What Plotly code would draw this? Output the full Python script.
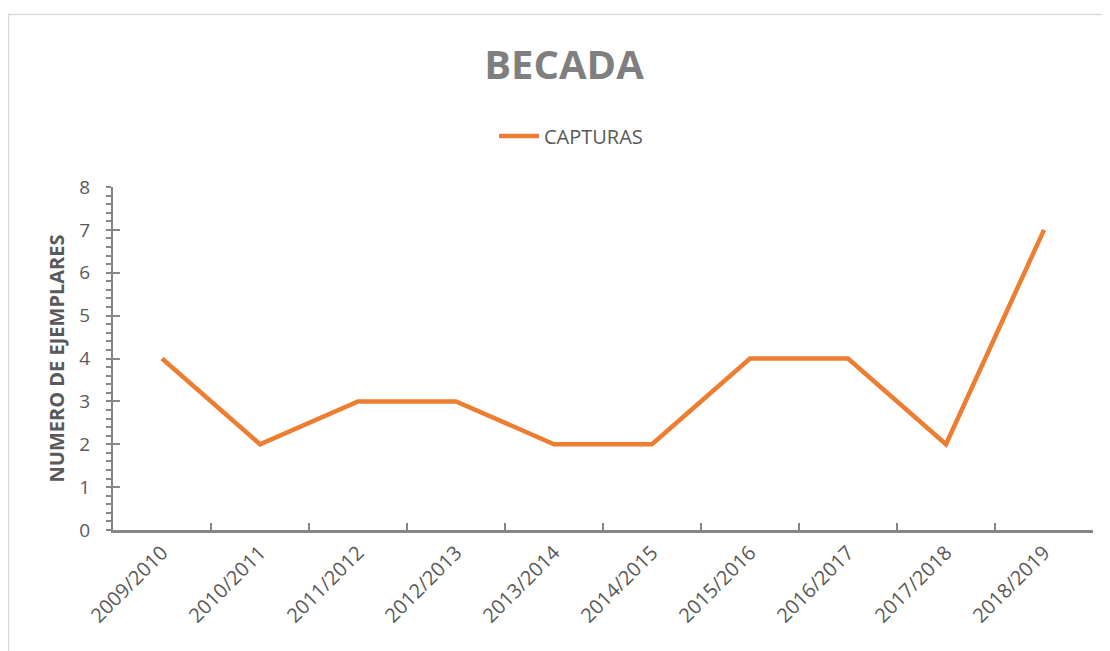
import plotly.graph_objects as go

categories = ["2009/2010", "2010/2011", "2011/2012", "2012/2013", "2013/2014",
              "2014/2015", "2015/2016", "2016/2017", "2017/2018", "2018/2019"]
capturas = [4, 2, 3, 3, 2, 2, 4, 4, 2, 7]

# page body has an 8px margin, so the figure is sized/placed to compensate
OFF = 8
W, H = 1110 - OFF, 651 - OFF
L, R, T, B = 113 - OFF, 17, 187 - OFF, 121
PW, PH = W - L - R, H - T - B
AX = "#868686"
TXT = "#595959"
FONT = "Open Sans"


def px(x):  # screen x -> paper
    return (x - OFF - L) / PW


def py(y):  # screen y -> paper
    return 1 - (y - OFF - T) / PH


fig = go.Figure()
fig.add_trace(go.Scatter(
    x=categories, y=capturas, mode="lines", name="CAPTURAS",
    line=dict(color="#ED7D31", width=4.5),
))
# invisible trace to carry inside major ticks on overlay axis
fig.add_trace(go.Scatter(x=[categories[0]], y=[0], yaxis="y2", mode="markers",
                         marker=dict(opacity=0), showlegend=False, hoverinfo="skip"))

fig.update_layout(
    width=W, height=H,
    margin=dict(l=L, r=R, t=T, b=B),
    paper_bgcolor="white", plot_bgcolor="white",
    font=dict(family=FONT, color=TXT),
    title=dict(text="<b>BECADA</b>", x=px(564), xref="paper", xanchor="center",
               y=1 - (65 - OFF) / H, yanchor="middle",
               font=dict(size=40, color="#7f7f7f", family=FONT)),
    showlegend=True,
    legend=dict(orientation="h", x=px(494), xanchor="left", xref="paper",
                y=py(136), yanchor="middle",
                font=dict(size=20, color=TXT), itemwidth=40),
    xaxis=dict(
        type="category", range=[-0.5, 9.5], showgrid=False,
        showline=True, linecolor=AX, linewidth=3,
        ticks="inside", tickson="boundaries", ticklen=7, tickwidth=2, tickcolor=AX,
        tickangle=-45, tickfont=dict(size=20, color=TXT),
    ),
    yaxis=dict(
        range=[0, 8], dtick=1, showgrid=False, zeroline=False,
        showline=True, linecolor=AX, linewidth=2,
        ticks="outside", ticklen=5, tickwidth=2, tickcolor=AX,
        tickfont=dict(size=19, color=TXT), ticklabelstandoff=12,
        minor=dict(dtick=0.2, ticks="outside", ticklen=5, tickwidth=1.5, tickcolor=AX),
        title=dict(text="<b>NUMERO DE EJEMPLARES</b>", font=dict(size=20, color=TXT), standoff=9),
    ),
    yaxis2=dict(
        overlaying="y", side="left", range=[0, 8], dtick=1, showgrid=False, zeroline=False,
        showticklabels=False, ticks="inside", ticklen=7, tickwidth=2, tickcolor=AX,
        showline=False,
    ),
)

# outer chart border
fig.add_shape(type="rect", xref="paper", yref="paper",
              x0=px(8.5), x1=px(1125), y0=py(670), y1=py(14.5),
              line=dict(color="#d9d9d9", width=1.5), fillcolor="rgba(0,0,0,0)", layer="below")

fig.write_html("out.html")
